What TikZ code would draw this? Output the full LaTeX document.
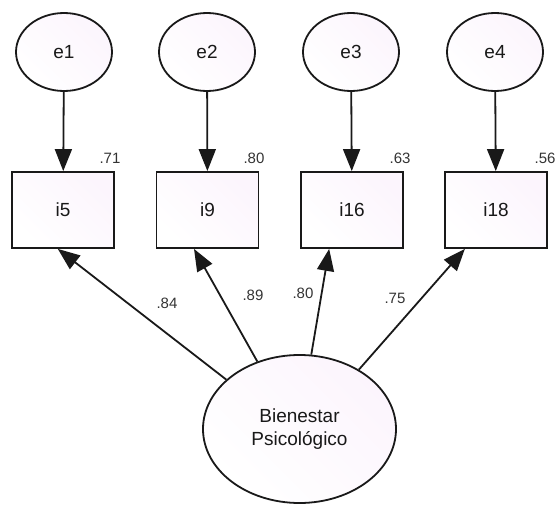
\documentclass[tikz,border=0pt]{standalone}
\usepackage{fontspec}
\setmainfont{Liberation Sans}
\usetikzlibrary{shapes.geometric,arrows.meta,calc}
\definecolor{lav}{RGB}{252,245,253}
\tikzset{
  errnode/.style={ellipse,draw=black!90,line width=1.8pt,minimum width=96pt,minimum height=78pt,inner sep=0pt,
    left color=white,right color=lav,shading angle=135,font=\fontsize{19}{22}\selectfont,text=black!90},
  itembox/.style={rectangle,draw=black!90,line width=1.8pt,minimum width=102pt,minimum height=76pt,inner sep=0pt,
    left color=white,right color=lav,shading angle=135,font=\fontsize{19}{22}\selectfont,text=black!90},
  latent/.style={ellipse,draw=black!90,line width=1.8pt,minimum width=193pt,minimum height=148pt,inner sep=0pt,
    left color=white,right color=lav,shading angle=135,font=\fontsize{19}{23}\selectfont,text=black!90,align=center},
  conn/.style={draw=black!90,line width=1.8pt,-{Triangle[length=22pt,width=17pt]}},
  coef/.style={font=\fontsize{15}{18}\selectfont,text=black!80,inner sep=0pt}
}
\begin{document}
\begin{tikzpicture}[x=1pt,y=-1pt]
\useasboundingbox (0,0) rectangle (559,505);
\node[errnode] (e1) at (64,52) {e1};
\node[errnode] (e2) at (207,52) {e2};
\node[errnode] (e3) at (351,52) {e3};
\node[errnode] (e4) at (495,52) {e4};
\node[itembox] (i5) at (63,210) {i5};
\node[itembox] (i9) at (207.5,210) {i9};
\node[itembox] (i16) at (352,210) {i16};
\node[itembox] (i18) at (496,210) {i18};
\node[latent] (bp) at (299.5,429) {Bienestar\\Psicológico};
\draw[conn] (e1) -- (i5);
\draw[conn] (e2) -- (i9);
\draw[conn] (e3) -- (i16);
\draw[conn] (e4) -- (i18);
\draw[conn] (bp.146) -- ($(i5.south west)!0.45!(i5.south east)$);
\draw[conn] (bp.122) -- ($(i9.south west)!0.37!(i9.south east)$);
\draw[conn] (bp.81) -- ($(i16.south west)!0.28!(i16.south east)$);
\draw[conn] (bp.45) -- ($(i18.south west)!0.2!(i18.south east)$);
\node[coef] (r1) at (110,158) {.71};
\node[coef] (r2) at (254,158) {.80};
\node[coef] (r3) at (400,158) {.63};
\node[coef] (r4) at (545,158) {.56};
\node[coef] (l1) at (167,303) {.84};
\node[coef] (l2) at (253,295) {.89};
\node[coef] (l3) at (303,293) {.80};
\node[coef] (l4) at (395,298) {.75};
\end{tikzpicture}
\end{document}
